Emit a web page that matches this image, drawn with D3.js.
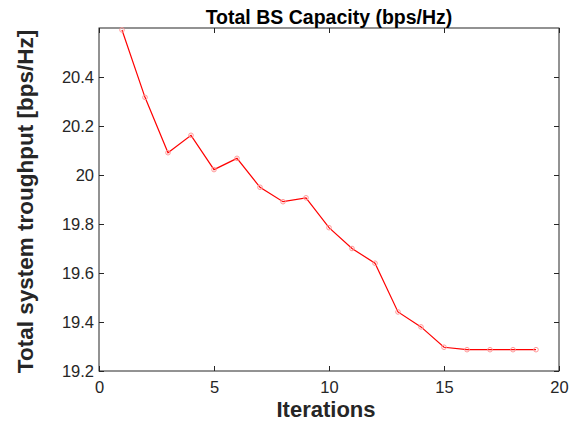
<!DOCTYPE html>
<html>
<head>
<meta charset="utf-8">
<script src="https://cdn.jsdelivr.net/npm/d3@7"></script>
<style>
  body { margin: 0; background: #fff; }
  svg { display: block; font-family: "Liberation Sans", Arial, sans-serif; }
</style>
</head>
<body>
<svg id="chart" width="580" height="428"></svg>
<script>
const iterations = [1,2,3,4,5,6,7,8,9,10,11,12,13,14,15,16,17,18,19];
const capacity = [20.592,20.317,20.091,20.162,20.022,20.068,19.950,19.891,19.907,19.785,19.700,19.640,19.441,19.380,19.297,19.287,19.287,19.287,19.287];
const xTicks = [0,5,10,15,20];
const yTicks = [19.2,19.4,19.6,19.8,20,20.2,20.4];
const titleText = "Total BS Capacity (bps/Hz)";
const xLabel = "Iterations";
const yLabel = "Total system troughput [bps/Hz]";

const svg = d3.select("#chart");
const m = {left: 99, right: 21, top: 28, bottom: 57};
const W = 580, H = 428;
const x = d3.scaleLinear().domain([0,20]).range([m.left, W - m.right]);
const y = d3.scaleLinear().domain([19.2,20.6]).range([H - m.bottom, m.top]);
const axisColor = "#262626";

svg.append("rect")
  .attr("x", x(0)).attr("y", y(20.6))
  .attr("width", x(20) - x(0)).attr("height", y(19.2) - y(20.6))
  .attr("fill", "none").attr("stroke", axisColor).attr("stroke-width", 1);

function styleAxis(g, hideText) {
  g.select(".domain").remove();
  g.selectAll("line").attr("stroke", axisColor);
  g.selectAll("text").attr("fill", axisColor)
    .style("font-size", "16.5px").style("font-family", "Liberation Sans, Arial, sans-serif");
  if (hideText) g.selectAll("text").remove();
}

svg.append("g").attr("transform", `translate(0,${y(19.2)})`)
  .call(d3.axisBottom(x).tickValues(xTicks).tickSize(-5).tickPadding(10).tickFormat(d3.format("d")))
  .call(g => styleAxis(g, false));
svg.append("g").attr("transform", `translate(0,${y(20.6)})`)
  .call(d3.axisTop(x).tickValues(xTicks).tickSize(-5))
  .call(g => styleAxis(g, true));
svg.append("g").attr("transform", `translate(${x(0)},0)`)
  .call(d3.axisLeft(y).tickValues(yTicks).tickSize(-5).tickPadding(5).tickFormat(d => d3.format("")(+d.toFixed(1))))
  .call(g => styleAxis(g, false));
svg.append("g").attr("transform", `translate(${x(20)},0)`)
  .call(d3.axisRight(y).tickValues(yTicks).tickSize(-5))
  .call(g => styleAxis(g, true));

const data = iterations.map((d, i) => ({x: d, y: capacity[i]}));

svg.append("path").datum(data)
  .attr("fill", "none").attr("stroke", "#ff0000").attr("stroke-width", 1.2)
  .attr("d", d3.line().x(d => x(d.x)).y(d => y(d.y)));

svg.append("g").selectAll("circle").data(data).join("circle")
  .attr("cx", d => x(d.x)).attr("cy", d => y(d.y)).attr("r", 2.3)
  .attr("fill", "none").attr("stroke", "#ff9a9a").attr("stroke-width", 1);

svg.append("text")
  .attr("x", (x(0) + x(20)) / 2).attr("y", 24)
  .attr("text-anchor", "middle").attr("font-weight", "bold").attr("font-size", "19.5px")
  .attr("fill", "#000").text(titleText);

svg.append("text")
  .attr("x", (x(0) + x(20)) / 2 - 3).attr("y", 417)
  .attr("text-anchor", "middle").attr("font-weight", "bold").attr("font-size", "22px")
  .attr("fill", axisColor).text(xLabel);

svg.append("text")
  .attr("transform", `translate(33,201.5) rotate(-90)`)
  .attr("text-anchor", "middle").attr("font-weight", "bold").attr("font-size", "22.5px")
  .attr("fill", axisColor).text(yLabel);
</script>
</body>
</html>
